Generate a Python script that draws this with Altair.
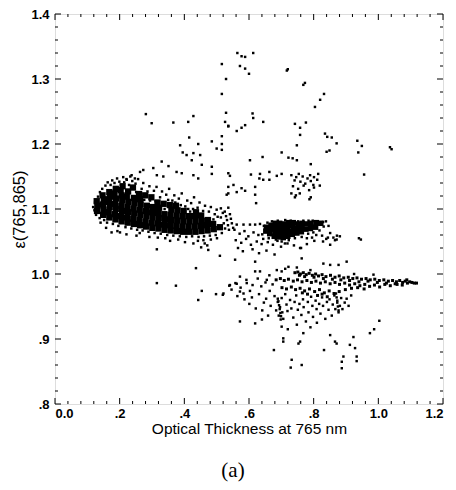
import altair as alt
import pandas as pd

# Tick positions and labels
x_major = [0.0, 0.2, 0.4, 0.6, 0.8, 1.0, 1.2]
x_minor = [0.04, 0.08, 0.12, 0.16, 0.24, 0.28, 0.32, 0.36, 0.44, 0.48, 0.52, 0.56,
           0.64, 0.68, 0.72, 0.76, 0.84, 0.88, 0.92, 0.96, 1.04, 1.08, 1.12, 1.16]
y_major = [0.8, 0.9, 1.0, 1.1, 1.2, 1.3, 1.4]
y_minor = [0.82, 0.84, 0.86, 0.88, 0.92, 0.94, 0.96, 0.98, 1.02, 1.04, 1.06, 1.08,
           1.12, 1.14, 1.16, 1.18, 1.22, 1.24, 1.26, 1.28, 1.32, 1.34, 1.36, 1.38]

# Dense core of the low optical-thickness population
core_a = [
    (0.130, 1.097), (0.131, 1.105), (0.129, 1.112),
    (0.149, 1.091), (0.150, 1.099), (0.148, 1.107), (0.151, 1.115), (0.147, 1.121),
    (0.168, 1.087), (0.166, 1.095), (0.169, 1.103), (0.167, 1.111), (0.170, 1.119), (0.168, 1.126),
    (0.187, 1.084), (0.185, 1.092), (0.188, 1.100), (0.186, 1.108), (0.189, 1.116), (0.184, 1.124), (0.188, 1.131),
    (0.206, 1.081), (0.204, 1.089), (0.207, 1.097), (0.205, 1.105), (0.208, 1.113), (0.206, 1.121), (0.203, 1.129), (0.209, 1.135),
    (0.225, 1.079), (0.223, 1.087), (0.226, 1.095), (0.224, 1.103), (0.227, 1.111), (0.222, 1.119), (0.226, 1.127),
    (0.244, 1.077), (0.242, 1.085), (0.245, 1.093), (0.243, 1.101), (0.246, 1.109), (0.244, 1.117), (0.241, 1.133),
    (0.263, 1.075), (0.261, 1.083), (0.264, 1.091), (0.262, 1.099), (0.265, 1.107), (0.263, 1.115), (0.260, 1.123),
    (0.282, 1.073), (0.280, 1.081), (0.283, 1.089), (0.281, 1.097), (0.284, 1.105), (0.279, 1.121),
    (0.301, 1.071), (0.299, 1.079), (0.302, 1.087), (0.300, 1.095), (0.303, 1.103), (0.298, 1.118),
    (0.320, 1.070), (0.318, 1.078), (0.321, 1.086), (0.319, 1.094), (0.322, 1.102), (0.317, 1.110),
    (0.339, 1.068), (0.337, 1.076), (0.340, 1.084), (0.338, 1.092), (0.336, 1.108),
    (0.358, 1.067), (0.356, 1.075), (0.359, 1.083), (0.357, 1.091), (0.360, 1.099), (0.355, 1.106),
    (0.377, 1.066), (0.375, 1.074), (0.378, 1.082), (0.376, 1.090), (0.379, 1.098), (0.374, 1.105),
    (0.396, 1.065), (0.394, 1.073), (0.397, 1.081), (0.395, 1.089), (0.398, 1.097),
    (0.415, 1.065), (0.413, 1.073), (0.416, 1.081), (0.414, 1.089),
    (0.434, 1.065), (0.432, 1.073), (0.435, 1.081), (0.433, 1.089), (0.436, 1.095),
    (0.453, 1.066), (0.451, 1.074), (0.454, 1.082), (0.452, 1.090),
    (0.472, 1.067), (0.470, 1.075), (0.473, 1.083),
    (0.491, 1.069), (0.489, 1.077),
    (0.510, 1.072),
]

# Dense core of the mid optical-thickness population
core_b = [
    (0.652, 1.066), (0.654, 1.072),
    (0.664, 1.062), (0.666, 1.069), (0.668, 1.075),
    (0.678, 1.058), (0.680, 1.065), (0.678, 1.072), (0.681, 1.078),
    (0.692, 1.057), (0.694, 1.064), (0.692, 1.071), (0.695, 1.078),
    (0.706, 1.056), (0.708, 1.063), (0.706, 1.070), (0.709, 1.077),
    (0.720, 1.058), (0.722, 1.065), (0.720, 1.072), (0.723, 1.079),
    (0.734, 1.061), (0.736, 1.068), (0.734, 1.075), (0.737, 1.079),
    (0.748, 1.063), (0.750, 1.070), (0.751, 1.077),
    (0.762, 1.065), (0.764, 1.071), (0.765, 1.078),
    (0.776, 1.069), (0.778, 1.077),
    (0.790, 1.070), (0.792, 1.078),
    (0.806, 1.072), (0.808, 1.079),
    (0.822, 1.078),
]

# Streaks of the high optical-thickness population
streaks = [
    (0.742, 1.002), (0.751, 1.003), (0.759, 1.000), (0.768, 1.002), (0.777, 0.999), (0.786, 1.001),
    (0.796, 0.998), (0.806, 1.000), (0.815, 0.997), (0.826, 0.999), (0.838, 0.996), (0.852, 0.998),
    (0.866, 0.995), (0.879, 0.997), (0.893, 0.994), (0.907, 0.995), (0.921, 0.993), (0.934, 0.994),
    (0.948, 0.992), (0.962, 0.993), (0.975, 0.991), (0.989, 0.992), (1.003, 0.990), (1.017, 0.991),
    (1.031, 0.989), (1.044, 0.990), (1.056, 0.988), (1.066, 0.990), (1.075, 0.987), (1.083, 0.989),
    (1.090, 0.986), (1.097, 0.988), (1.104, 0.987), (1.111, 0.986), (1.118, 0.986), (1.088, 0.991),
    (0.756, 0.998), (0.772, 0.996), (0.801, 0.995), (0.830, 0.993), (0.858, 0.992), (0.884, 0.991),
    (0.911, 0.990), (0.940, 0.988), (0.968, 0.989), (0.997, 0.987), (1.025, 0.986), (1.052, 0.985),
    (0.684, 0.991), (0.697, 0.993), (0.709, 0.990), (0.722, 0.992), (0.737, 0.989), (0.750, 0.991),
    (0.764, 0.988), (0.779, 0.990), (0.793, 0.987), (0.807, 0.989), (0.821, 0.986), (0.836, 0.988),
    (0.851, 0.985), (0.866, 0.987), (0.880, 0.984), (0.896, 0.986), (0.911, 0.983), (0.927, 0.985),
    (0.943, 0.982), (0.958, 0.984), (0.973, 0.981), (0.988, 0.983), (1.004, 0.980), (1.020, 0.984),
    (1.037, 0.982), (1.058, 0.984), (1.074, 0.983),
    (0.702, 0.979), (0.716, 0.977), (0.731, 0.980), (0.744, 0.976), (0.758, 0.978), (0.772, 0.974),
    (0.787, 0.977), (0.803, 0.973), (0.818, 0.976), (0.833, 0.971), (0.848, 0.974), (0.863, 0.970),
    (0.879, 0.973), (0.898, 0.976), (0.917, 0.978), (0.936, 0.979), (0.956, 0.977), (0.812, 0.967),
    (0.826, 0.969), (0.842, 0.965), (0.781, 0.969), (0.765, 0.971),
]

# Scattered individual retrievals
scatter = [
    # fringe of the low optical-thickness population
    (0.118, 1.103), (0.122, 1.098), (0.124, 1.110), (0.127, 1.091), (0.133, 1.119), (0.138, 1.086),
    (0.139, 1.126), (0.146, 1.131), (0.152, 1.083), (0.156, 1.136), (0.161, 1.079), (0.163, 1.141),
    (0.172, 1.137), (0.177, 1.144), (0.179, 1.077), (0.184, 1.140), (0.192, 1.147), (0.196, 1.074),
    (0.199, 1.142), (0.211, 1.149), (0.214, 1.141), (0.218, 1.072), (0.221, 1.146), (0.229, 1.137),
    (0.233, 1.150), (0.236, 1.070), (0.239, 1.143), (0.249, 1.139), (0.251, 1.126), (0.254, 1.068),
    (0.257, 1.146), (0.268, 1.131), (0.271, 1.067), (0.273, 1.140), (0.276, 1.114), (0.286, 1.127),
    (0.289, 1.065), (0.292, 1.135), (0.294, 1.113), (0.306, 1.128), (0.308, 1.063), (0.311, 1.112),
    (0.314, 1.134), (0.325, 1.118), (0.327, 1.062), (0.331, 1.127), (0.334, 1.110), (0.344, 1.122),
    (0.347, 1.060), (0.350, 1.114), (0.353, 1.131), (0.363, 1.113), (0.366, 1.059), (0.369, 1.121),
    (0.372, 1.110), (0.383, 1.116), (0.386, 1.058), (0.389, 1.106), (0.392, 1.124), (0.403, 1.104),
    (0.406, 1.057), (0.409, 1.113), (0.412, 1.100), (0.421, 1.109), (0.424, 1.058), (0.427, 1.100),
    (0.430, 1.118), (0.441, 1.102), (0.444, 1.057), (0.447, 1.110), (0.458, 1.097), (0.461, 1.058),
    (0.464, 1.105), (0.476, 1.096), (0.479, 1.059), (0.482, 1.103), (0.494, 1.092), (0.497, 1.060),
    (0.500, 1.099), (0.503, 1.088), (0.513, 1.087), (0.516, 1.063), (0.519, 1.094), (0.522, 1.078),
    (0.526, 1.070), (0.529, 1.089), (0.532, 1.083), (0.535, 1.075), (0.538, 1.068), (0.541, 1.092),
    (0.544, 1.085), (0.547, 1.078), (0.551, 1.071), (0.513, 1.101), (0.525, 1.096), (0.536, 1.102),
    (0.442, 1.051), (0.463, 1.047), (0.482, 1.053), (0.501, 1.055), (0.381, 1.053), (0.402, 1.049),
    (0.341, 1.055), (0.292, 1.057), (0.252, 1.059), (0.221, 1.061), (0.452, 1.041), (0.471, 1.044),
    (0.141, 1.079), (0.158, 1.071), (0.193, 1.066), (0.262, 1.063), (0.318, 1.056), (0.356, 1.051),
    (0.339, 1.100), (0.418, 1.096), (0.490, 1.084),
    # sparse points above
    (0.564, 1.340), (0.577, 1.335), (0.588, 1.334), (0.613, 1.340), (0.572, 1.320), (0.588, 1.316),
    (0.600, 1.308), (0.717, 1.313), (0.720, 1.315), (0.773, 1.294), (0.768, 1.291), (0.832, 1.277),
    (0.820, 1.268), (0.804, 1.257), (0.611, 1.247), (0.613, 1.240), (0.644, 1.234), (0.526, 1.234),
    (0.536, 1.227), (0.562, 1.220), (0.577, 1.225), (0.588, 1.229), (0.742, 1.231), (0.758, 1.225),
    (0.776, 1.233), (0.516, 1.212), (0.835, 1.216), (0.842, 1.211), (0.856, 1.210), (0.871, 1.201),
    (0.758, 1.214), (0.748, 1.198), (0.935, 1.205), (0.949, 1.197), (0.938, 1.187), (1.036, 1.195),
    (1.041, 1.192), (0.840, 1.188), (0.849, 1.190), (0.516, 1.191), (0.642, 1.180), (0.701, 1.187),
    (0.722, 1.179), (0.735, 1.178), (0.748, 1.175), (0.603, 1.175), (0.791, 1.169), (0.663, 1.157),
    (0.956, 1.153), (0.606, 1.153), (0.541, 1.151), (0.634, 1.154), (0.644, 1.145), (0.632, 1.147),
    (0.663, 1.145), (0.686, 1.151), (0.701, 1.154), (0.552, 1.137), (0.536, 1.134), (0.577, 1.132),
    (0.531, 1.122), (0.562, 1.126), (0.588, 1.128), (0.619, 1.134), (0.619, 1.122), (0.622, 1.109),
    (0.731, 1.152), (0.746, 1.149), (0.754, 1.154), (0.766, 1.150), (0.781, 1.147), (0.789, 1.152),
    (0.801, 1.149), (0.814, 1.154), (0.741, 1.144), (0.759, 1.142), (0.774, 1.139), (0.791, 1.143),
    (0.799, 1.137), (0.811, 1.145), (0.736, 1.135), (0.752, 1.131), (0.769, 1.136), (0.786, 1.129),
    (0.801, 1.133), (0.819, 1.136), (0.731, 1.124), (0.745, 1.121), (0.742, 1.118), (0.757, 1.124),
    (0.787, 1.115), (0.791, 1.118),
    (0.516, 1.323), (0.529, 1.300), (0.516, 1.277), (0.529, 1.248), (0.281, 1.246), (0.299, 1.232),
    (0.366, 1.233), (0.412, 1.234), (0.428, 1.243), (0.536, 1.228), (0.415, 1.210), (0.387, 1.198),
    (0.443, 1.200), (0.485, 1.204), (0.516, 1.200), (0.395, 1.187), (0.407, 1.183), (0.428, 1.186),
    (0.449, 1.183), (0.423, 1.175), (0.330, 1.173), (0.351, 1.166), (0.454, 1.168), (0.485, 1.165),
    (0.500, 1.193), (0.304, 1.163), (0.273, 1.160), (0.263, 1.157), (0.376, 1.157), (0.392, 1.155),
    (0.428, 1.152), (0.443, 1.147), (0.485, 1.154), (0.315, 1.152), (0.335, 1.150), (0.237, 1.152),
    (0.247, 1.147), (0.222, 1.145), (0.536, 1.155), (0.536, 1.124),
    # fringe of the mid optical-thickness population
    (0.641, 1.061), (0.646, 1.074), (0.657, 1.079), (0.671, 1.081), (0.689, 1.082), (0.712, 1.083),
    (0.729, 1.082), (0.752, 1.081), (0.768, 1.082), (0.784, 1.082), (0.797, 1.082), (0.813, 1.081),
    (0.829, 1.080), (0.838, 1.081), (0.831, 1.073), (0.846, 1.074), (0.818, 1.067), (0.799, 1.064),
    (0.783, 1.062), (0.808, 1.060), (0.826, 1.059), (0.844, 1.056), (0.861, 1.056), (0.872, 1.059),
    (0.795, 1.056), (0.779, 1.055), (0.763, 1.057), (0.742, 1.055), (0.723, 1.052), (0.701, 1.050),
    (0.683, 1.053), (0.661, 1.055), (0.711, 1.047), (0.851, 1.063), (0.866, 1.052),
    (0.562, 1.076), (0.583, 1.076), (0.603, 1.076), (0.619, 1.076), (0.634, 1.077),
    (0.555, 1.068), (0.571, 1.062), (0.586, 1.066), (0.598, 1.058), (0.614, 1.064), (0.629, 1.060),
    (0.644, 1.054), (0.559, 1.052), (0.576, 1.048), (0.591, 1.054), (0.606, 1.045), (0.624, 1.050),
    (0.639, 1.046), (0.658, 1.049), (0.674, 1.045), (0.688, 1.051), (0.699, 1.042), (0.566, 1.040),
    (0.581, 1.035), (0.611, 1.038), (0.631, 1.032), (0.654, 1.036), (0.679, 1.030), (0.719, 1.047),
    (0.739, 1.044), (0.761, 1.040), (0.779, 1.046), (0.802, 1.051), (0.829, 1.050), (0.851, 1.045),
    (0.839, 1.054), (0.871, 1.053), (0.881, 1.058), (0.940, 1.055), (0.946, 1.053),
    # between the populations
    (0.521, 0.970), (0.541, 0.983), (0.562, 0.985), (0.572, 0.973), (0.583, 0.970), (0.593, 0.986),
    (0.619, 1.004), (0.634, 1.004), (0.572, 0.996), (0.557, 1.022), (0.655, 0.991), (0.686, 1.006),
    (0.701, 1.004), (0.722, 1.011), (0.763, 1.024), (0.758, 1.040), (0.830, 1.016), (0.851, 1.014),
    (0.877, 1.014), (0.902, 1.019), (0.619, 1.019), (0.436, 1.009), (0.315, 0.986), (0.374, 0.982),
    (0.454, 0.974), (0.443, 0.960), (0.498, 0.969), (0.519, 0.968), (0.539, 0.982), (0.474, 1.037),
    (0.510, 1.028), (0.428, 1.047), (0.459, 1.052), (0.175, 1.064), (0.201, 1.064), (0.315, 1.038),
    (0.663, 0.998), (0.712, 1.008), (0.748, 1.010), (0.790, 1.006), (0.925, 1.000), (0.985, 0.999),
    # cloud below the high optical-thickness streaks
    (0.558, 0.986), (0.574, 0.979), (0.592, 0.991), (0.603, 0.974), (0.611, 0.983), (0.627, 0.993),
    (0.631, 0.969), (0.638, 0.981), (0.651, 0.987), (0.653, 0.962), (0.664, 0.974), (0.667, 0.951),
    (0.673, 0.984), (0.679, 0.966), (0.684, 0.944), (0.689, 0.957), (0.692, 0.936), (0.696, 0.949),
    (0.701, 0.963), (0.703, 0.941), (0.706, 0.931), (0.712, 0.969), (0.716, 0.953), (0.719, 0.943),
    (0.727, 0.960), (0.731, 0.947), (0.737, 0.933), (0.741, 0.957), (0.746, 0.967), (0.751, 0.945),
    (0.756, 0.954), (0.762, 0.937), (0.767, 0.961), (0.769, 0.949), (0.776, 0.927), (0.782, 0.957),
    (0.784, 0.941), (0.792, 0.965), (0.796, 0.951), (0.798, 0.934), (0.806, 0.959), (0.809, 0.946),
    (0.817, 0.954), (0.821, 0.939), (0.826, 0.964), (0.829, 0.951), (0.836, 0.931), (0.841, 0.957),
    (0.846, 0.945), (0.849, 0.961), (0.856, 0.936), (0.859, 0.953), (0.864, 0.967), (0.867, 0.946),
    (0.873, 0.959), (0.877, 0.941), (0.881, 0.951), (0.885, 0.963), (0.889, 0.946), (0.896, 0.956),
    (0.902, 0.962), (0.908, 0.951), (0.916, 0.967), (0.601, 0.954), (0.586, 0.961), (0.621, 0.947),
    (0.641, 0.944), (0.659, 0.936), (0.546, 0.976), (0.564, 0.966), (0.609, 0.964), (0.646, 0.956),
    (0.689, 0.962), (0.691, 0.958), (0.693, 0.952), (0.695, 0.946), (0.697, 0.940), (0.699, 0.935),
    (0.698, 0.930), (0.869, 0.970), (0.871, 0.964), (0.873, 0.956), (0.875, 0.950), (0.877, 0.944),
    (0.701, 0.919), (0.706, 0.901), (0.706, 0.896), (0.677, 0.883), (0.732, 0.868), (0.729, 0.856),
    (0.763, 0.860), (0.758, 0.896), (0.753, 0.893), (0.768, 0.909), (0.866, 0.896), (0.871, 0.893),
    (0.832, 0.883), (0.892, 0.873), (0.887, 0.865), (0.887, 0.855), (0.933, 0.873), (0.933, 0.866),
    (0.912, 0.891), (0.928, 0.886), (0.974, 0.909), (0.987, 0.915), (1.003, 0.928), (0.923, 0.903),
    (0.851, 0.906), (0.748, 0.922), (0.572, 0.927), (0.619, 0.924), (0.720, 0.915), (0.790, 0.918),
    (0.810, 0.925), (0.640, 0.930),
]

W, H = 388, 390
FONT = "Liberation Sans"

xscale = alt.Scale(domain=[0.0, 1.2], nice=False, zero=False)
yscale = alt.Scale(domain=[0.8, 1.4], nice=False, zero=False)

label_expr = ("datum.value == 0 ? '0.0' : (datum.value < 0.99 ? "
              "replace(format(datum.value, '.1f'), '0.', '.') : format(datum.value, '.1f'))")

x_axis = alt.Axis(values=x_major, labelExpr=label_expr, ticks=False, domain=False, grid=False,
                  labelFont=FONT, labelFontWeight="bold", labelFontSize=13, labelPadding=3,
                  labelColor="black", title="Optical Thickness at 765 nm", titleFont=FONT,
                  titleFontSize=15.5, titleFontWeight="normal", titleColor="black", titlePadding=1)
y_axis = alt.Axis(values=y_major, labelExpr=label_expr, ticks=False, domain=False, grid=False,
                  labelFont=FONT, labelFontWeight="bold", labelFontSize=13, labelPadding=6,
                  labelColor="black", title="ε(765,865)", titleFont=FONT,
                  titleFontSize=16.5, titleFontWeight="normal", titleColor="black", titlePadding=3)


def pts(rows):
    return pd.DataFrame(rows, columns=["tau", "eps"])


def dots(rows, size):
    return alt.Chart(pts(rows)).mark_square(color="black", size=size, opacity=1).encode(
        x=alt.X("tau:Q", scale=xscale, axis=x_axis),
        y=alt.Y("eps:Q", scale=yscale, axis=y_axis),
    )


def xticks(values, length):
    d = pd.DataFrame({"tau": values})
    base = alt.Chart(d).mark_rule(color="black", strokeWidth=1)
    enc = dict(x=alt.X("tau:Q", scale=xscale, axis=x_axis))
    bottom = base.encode(y=alt.value(H), y2=alt.value(H - length), **enc)
    top = base.encode(y=alt.value(0), y2=alt.value(length), **enc)
    return bottom + top


def yticks(values, length):
    d = pd.DataFrame({"eps": values})
    base = alt.Chart(d).mark_rule(color="black", strokeWidth=1)
    enc = dict(y=alt.Y("eps:Q", scale=yscale, axis=y_axis))
    left = base.encode(x=alt.value(0), x2=alt.value(length), **enc)
    right = base.encode(x=alt.value(W), x2=alt.value(W - length), **enc)
    return left + right


chart = alt.layer(
    dots(scatter, 6),
    dots(streaks, 9),
    dots(core_a, 40),
    dots(core_b, 30),
    xticks(x_major, 6), xticks(x_minor, 3),
    yticks(y_major, 6), yticks(y_minor, 3),
).properties(
    width=W, height=H,
    title=alt.TitleParams("(a)", orient="bottom", anchor="middle", font="Liberation Serif",
                          fontSize=21, fontWeight="normal", color="black", offset=23, dx=-16),
    autosize=alt.AutoSizeParams(type="none"),
    padding={"left": 55, "top": 14, "right": 13, "bottom": 86},
).configure_view(stroke="black", strokeWidth=2).configure(background="white")

chart.save("out.html", embed_options={"renderer": "svg", "actions": False})
